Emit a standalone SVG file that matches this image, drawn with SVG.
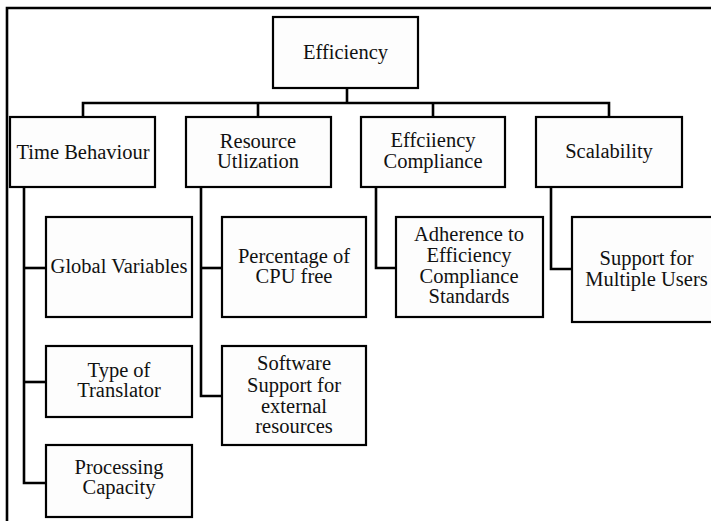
<svg xmlns="http://www.w3.org/2000/svg" width="711" height="521" viewBox="0 0 711 521">
  <style>
    .box { fill: #fdfdfd; stroke: #000; stroke-width: 2.2; }
    .wire { fill: none; stroke: #000; stroke-width: 2.6; stroke-linejoin: miter; }
    text { font-family: 'Liberation Serif', 'Times New Roman', serif; font-size: 20.5px; fill: #111; text-anchor: middle; }
  </style>
  <rect x="0" y="0" width="711" height="521" fill="#fff"/>
  <!-- page frame -->
  <path d="M7,521 V8 H711" fill="none" stroke="#000" stroke-width="2.6"/>

  <g id="connectors">
    <path class="wire" d="M347,88 V103"/>
    <path class="wire" d="M83,117 V103 H609 V117"/>
    <path class="wire" d="M258,103 V117"/>
    <path class="wire" d="M433,103 V117"/>
    <path class="wire" d="M24,187 V483 H46"/>
    <path class="wire" d="M24,268 H46"/>
    <path class="wire" d="M24,382 H46"/>
    <path class="wire" d="M201,187 V396 H222"/>
    <path class="wire" d="M201,268 H222"/>
    <path class="wire" d="M376,187 V268 H396"/>
    <path class="wire" d="M551,187 V269 H572"/>
  </g>

  <g id="efficiency">
    <rect class="box" x="273" y="17" width="145" height="71"/>
    <text x="345.5" y="59">Efficiency</text>
  </g>

  <g id="time-behaviour">
    <rect class="box" x="10" y="117" width="145" height="70"/>
    <text x="83" y="159">Time Behaviour</text>
  </g>

  <g id="resource-utilization">
    <rect class="box" x="186" y="117" width="145" height="70"/>
    <text x="258" y="148">Resource<tspan x="258" y="168">Utlization</tspan></text>
  </g>

  <g id="efficiency-compliance">
    <rect class="box" x="361" y="117" width="144" height="70"/>
    <text x="433" y="147">Effciiency<tspan x="433" y="168">Compliance</tspan></text>
  </g>

  <g id="scalability">
    <rect class="box" x="536" y="117" width="146" height="70"/>
    <text x="609" y="158">Scalability</text>
  </g>

  <g id="global-variables">
    <rect class="box" x="46" y="217" width="146" height="100"/>
    <text x="119" y="273">Global Variables</text>
  </g>

  <g id="type-of-translator">
    <rect class="box" x="46" y="346" width="146" height="71"/>
    <text x="119" y="377">Type of<tspan x="119" y="397">Translator</tspan></text>
  </g>

  <g id="processing-capacity">
    <rect class="box" x="46" y="445" width="146" height="72"/>
    <text x="119" y="474">Processing<tspan x="119" y="494">Capacity</tspan></text>
  </g>

  <g id="cpu-free">
    <rect class="box" x="222" y="217" width="144" height="100"/>
    <text x="294" y="263">Percentage of<tspan x="294" y="283">CPU free</tspan></text>
  </g>

  <g id="software-support">
    <rect class="box" x="222" y="346" width="144" height="99"/>
    <text x="294" y="370">Software<tspan x="294" y="391.5">Support for</tspan><tspan x="294" y="412.5">external</tspan><tspan x="294" y="432.5">resources</tspan></text>
  </g>

  <g id="compliance-standards">
    <rect class="box" x="396" y="217" width="147" height="100"/>
    <text x="469" y="241">Adherence to<tspan x="469" y="262">Efficiency</tspan><tspan x="469" y="283">Compliance</tspan><tspan x="469" y="303">Standards</tspan></text>
  </g>

  <g id="multiple-users">
    <rect class="box" x="572" y="217" width="150" height="105"/>
    <text x="646.5" y="265">Support for<tspan x="646.5" y="286">Multiple Users</tspan></text>
  </g>
</svg>
